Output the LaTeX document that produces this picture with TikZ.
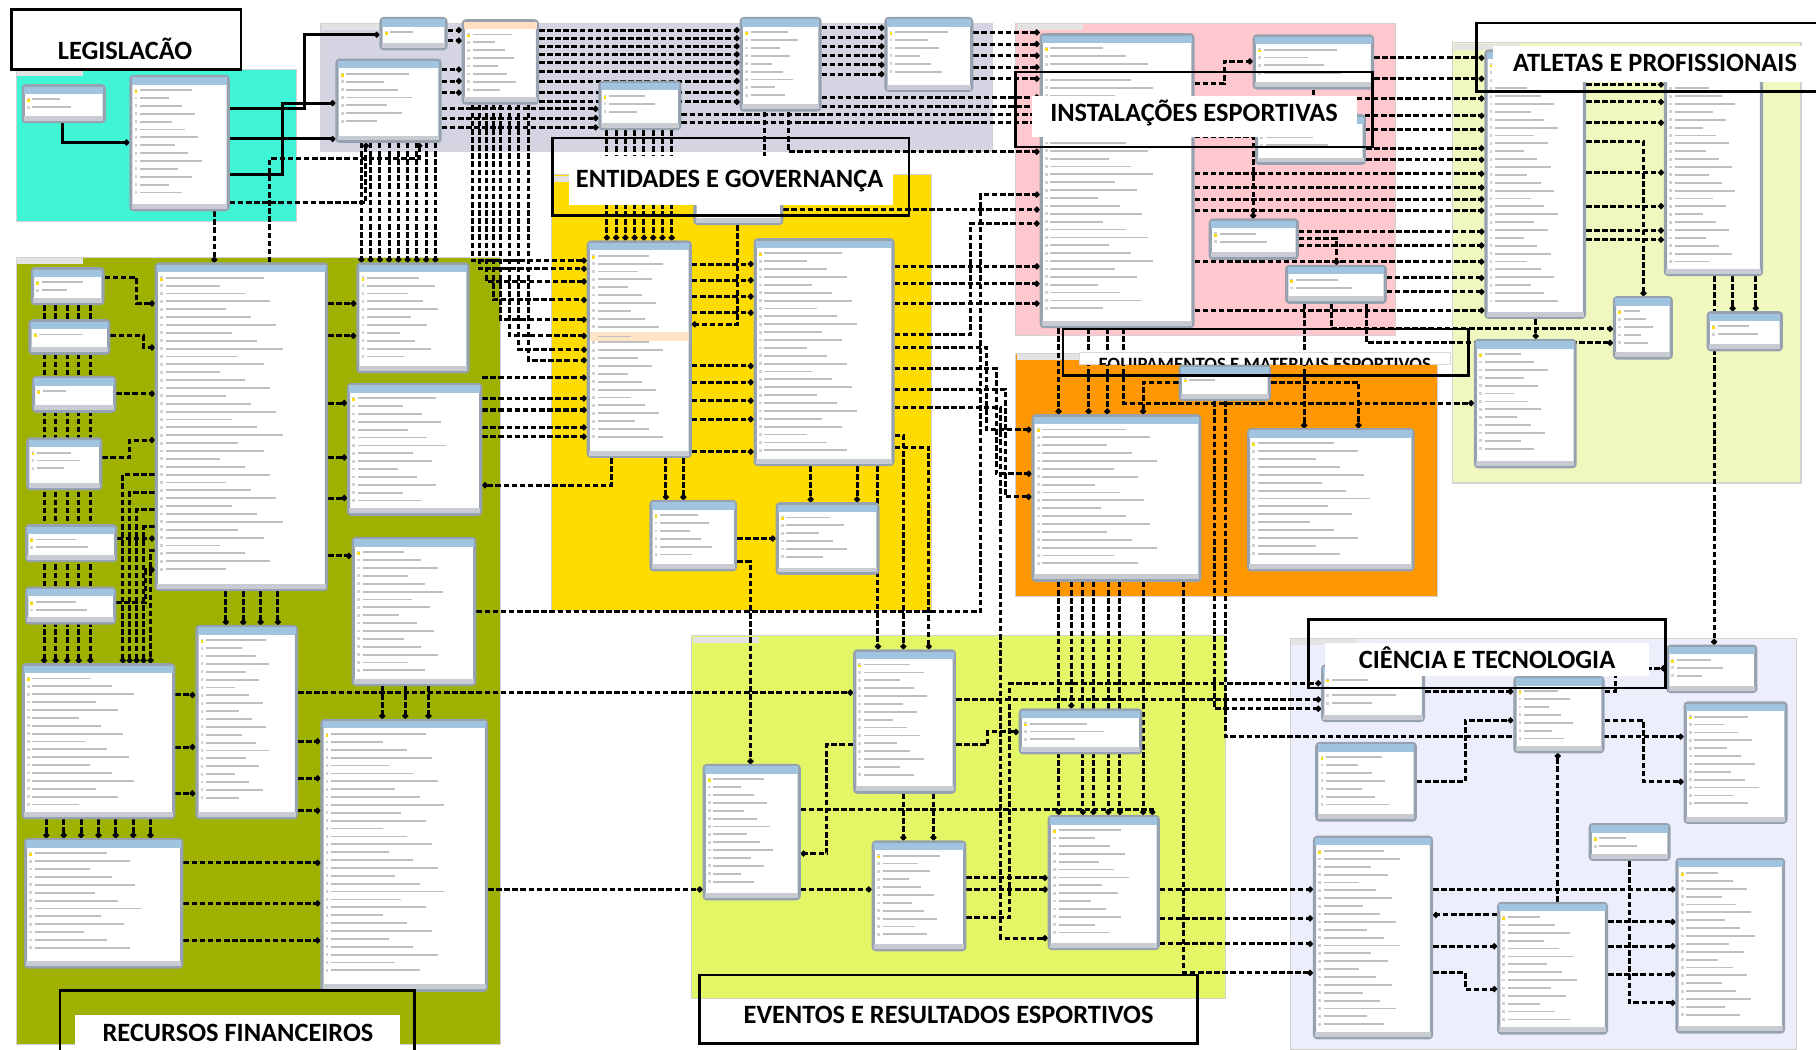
\documentclass[tikz,border=0pt]{standalone}
\usepackage{fontspec}
\setmainfont{Carlito}
\usetikzlibrary{fit,calc,arrows.meta}
\definecolor{cCyan}{RGB}{64,244,214}
\definecolor{cGray}{RGB}{212,212,226}
\definecolor{cYel}{RGB}{255,220,0}
\definecolor{cPink}{RGB}{255,200,206}
\definecolor{cAtl}{RGB}{240,248,192}
\definecolor{cOra}{RGB}{255,152,0}
\definecolor{cOli}{RGB}{158,176,0}
\definecolor{cEve}{RGB}{226,246,102}
\definecolor{cCie}{RGB}{236,238,252}
\definecolor{cFrame}{RGB}{150,162,176}
\definecolor{cHead}{RGB}{160,196,224}
\definecolor{cFoot}{RGB}{200,204,210}
\tikzset{
  region/.style={draw=gray!35, line width=0.5pt},
  captab/.style={fill=gray!22},
  tbl/.style={draw=cFrame, line width=1.4pt, fill=white, rounded corners=1.2pt, inner sep=0pt},
  tbhead/.style={fill=cHead},
  tbfoot/.style={fill=cFoot},
  tbrow/.style={draw=gray!50, line width=0.8pt},
  fk/.style={draw=black, line width=1.3pt, dash pattern=on 2.4pt off 1.1pt, -{Circle[length=2.4pt]}},
  sk/.style={draw=black, line width=1.3pt, -{Circle[length=2.4pt]}},
  lblframe/.style={draw=black, line width=1.1pt, inner sep=0pt},
  lblfill/.style={fill=white, inner sep=0pt},
  lbltext/.style={font=\bfseries\fontsize{11.4}{13}\selectfont, inner sep=0pt, anchor=base},
  lbltextsmall/.style={font=\bfseries\fontsize{8.1}{10}\selectfont, inner sep=0pt, anchor=base},
}
\newcommand{\tb}[5]{%
  \node[tbl, fit={(#2,#3) (#4,#5)}] (#1) {};
  \fill[tbhead] (#2+0.7,#3+0.7) rectangle (#4-0.7,#3+7);
  \fill[tbfoot] (#2+0.7,#5-5) rectangle (#4-0.7,#5-0.7);
  \pgfmathtruncatemacro{\nrows}{floor((#5-#3-16)/6.8)}
  \ifnum\nrows>0
  \foreach \i in {1,...,\nrows}{
    \pgfmathsetmacro{\ry}{#3+7+6.8*\i-2}
    \pgfmathsetmacro{\rl}{(#4-#2-14)*(0.35+0.45*mod(\i*37+#2,11)/11)}
    \draw[tbrow] (#2+8,\ry) -- ++(\rl,0);
    \fill[gray!35] (#2+3.2,\ry-1.2) rectangle ++(2.4,2.4);
  }
  \fi
  \fill[yellow!80!orange] (#2+3.2,#3+11.8) rectangle ++(2.4,2.4);
}
\pgfdeclarelayer{tables}
\pgfsetlayers{main,tables}
\begin{document}
\begin{tikzpicture}[x=0.5pt,y=-0.5pt]
\useasboundingbox (0,0) rectangle (1568,906);
\clip (0,0) rectangle (1568,906);
\fill[white] (0,0) rectangle (1568,906);

% ---------------- regions
\fill[cCyan, region] (14,60) rectangle (256,191);
\fill[cGray, region] (277,20) rectangle (857,131);
\fill[cYel, region] (476,151) rectangle (804,527);
\fill[cPink, region] (877,20) rectangle (1205,290);
\fill[cAtl, region] (1254,37) rectangle (1555,417);
\fill[cOra, region] (877,305) rectangle (1241,515);
\fill[cOli, region] (14,222) rectangle (432,902);
\fill[cEve, region] (597,549) rectangle (1058,862);
\fill[cCie, region] (1114,551) rectangle (1551,906);
\foreach \xa/\ya in {14/60,277/20,476/151,877/20,1254/37,877/305,14/222,597/549,1114/551}
  \fill[captab] (\xa+1,\ya+1) rectangle (\xa+58,\ya+6);

\coordinate (c-a) at (263,30);
\coordinate (c-b) at (244,89);

% ---------------- tables (upper layer)
\begin{pgfonlayer}{tables}
\tb{tdl}{20}{74}{90}{105}
\tb{leg}{113}{66}{197}{181}
\tb{g1}{329}{16}{385}{42}
\tb{uf}{400}{18}{464}{89}
\tb{cid}{291}{52}{380}{122}
\tb{mod}{518}{71}{587}{111}
\tb{pes}{640}{16}{708}{95}
\tb{g2}{765}{16}{839}{78}
\tb{g3}{600}{150}{675}{193}
\tb{ent}{508}{209}{596}{394}
\tb{gov}{652}{207}{771}{401}
\tb{ye1}{562}{433}{635}{492}
\tb{ye2}{671}{435}{758}{495}
\tb{inst}{899}{30}{1030}{282}
\tb{ip1}{1083}{31}{1185}{76}
\tb{ip2}{1085}{100}{1178}{141}
\tb{ip3}{1045}{190}{1120}{223}
\tb{ip4}{1111}{230}{1196}{261}
\tb{atl}{1283}{44}{1368}{274}
\tb{prof}{1438}{44}{1521}{237}
\tb{dop}{1274}{294}{1360}{403}
\tb{at1}{1394}{257}{1443}{309}
\tb{at2}{1475}{270}{1538}{302}
\tb{or1}{1019}{316}{1096}{345}
\tb{or2}{892}{359}{1036}{501}
\tb{or3}{1078}{371}{1220}{492}
\tb{ol1}{28}{232}{89}{262}
\tb{ol2}{26}{277}{94}{305}
\tb{ol3}{29}{326}{99}{355}
\tb{ol4}{24}{379}{87}{422}
\tb{ol5}{23}{454}{100}{484}
\tb{ol6}{23}{508}{99}{538}
\tb{conv}{135}{228}{282}{509}
\tb{ol7}{309}{228}{404}{321}
\tb{ol8}{301}{332}{415}{444}
\tb{ol9}{305}{465}{410}{591}
\tb{ol10}{170}{541}{256}{706}
\tb{ol11}{20}{574}{150}{706}
\tb{ol12}{22}{725}{157}{835}
\tb{ol13}{278}{622}{420}{855}
\tb{ev1}{738}{562}{824}{684}
\tb{ev2}{608}{661}{690}{776}
\tb{ev3}{881}{613}{985}{650}
\tb{ev4}{754}{727}{833}{820}
\tb{ev5}{906}{705}{1000}{819}
\tb{ct1}{1142}{575}{1229}{622}
\tb{ct2}{1308}{585}{1384}{649}
\tb{ct3}{1440}{558}{1516}{597}
\tb{ct4}{1455}{607}{1542}{710}
\tb{ct5}{1137}{642}{1222}{708}
\tb{ct6}{1373}{712}{1441}{742}
\tb{ct7}{1135}{723}{1236}{896}
\tb{ct8}{1294}{780}{1387}{892}
\tb{ct9}{1448}{742}{1540}{891}
\fill[orange!25] (400.7,18.7) rectangle (463.3,25);
\fill[orange!22] (509.2,287) rectangle (594.8,294);
\draw[tbrow] (516,290.5) -- (545,290.5);
\end{pgfonlayer}

% ---------------- connectors (main layer, below tables)
% legislacao
\draw[sk] (tdl.south -| 54,0) |- (leg.west |- 0,123);
\draw[sk] (leg.east |- 0,94) -| (c-a) -- (g1.west |- 0,30);
\draw[sk] (leg.east |- 0,120) -- (cid.west |- 0,120);
\draw[sk] (leg.east |- 0,151) -| (c-b) -- (cid.west |- 0,89);
\draw[fk] (leg.east |- 0,175) -| (cid.south -| 316,0);
\draw[fk] (leg.south -| 185,0) -- (conv.north -| 185,0);
\draw[fk] (conv.north -| 233,0) |- (362,137) -- (cid.south -| 362,0);
% gray region
\foreach \yy in {26,33,40,47,54,62,70,80,88} \draw[fk] (uf.east |- 0,\yy) -- (pes.west |- 0,\yy);
\foreach \yy in {24,32,40,48,56,64} \draw[fk] (pes.east |- 0,\yy) -- (g2.west |- 0,\yy);
\foreach \yy in {28,38,48,58,68} \draw[fk] (g2.east |- 0,\yy) -- (inst.west |- 0,\yy);
\foreach \yy in {84,92} \draw[fk] (pes.east |- 0,\yy) -- (inst.west |- 0,\yy);
\foreach \yy in {99,106} \draw[fk] (mod.east |- 0,\yy) -- (inst.west |- 0,\yy);
\draw[fk] (g1.east |- 0,26) -- (uf.west |- 0,26);
\draw[fk] (g1.east |- 0,35) -- (uf.west |- 0,35);
\foreach \yy in {60,70,80} \draw[fk] (cid.east |- 0,\yy) -- (uf.west |- 0,\yy);
\foreach \yy in {94,102,110} \draw[fk] (cid.east |- 0,\yy) -- (mod.west |- 0,\yy);
\draw[fk] (pes.south -| 681,0) |- (inst.west |- 0,131);
\draw[fk] (pes.south -| 660,0) -- (g3.north -| 660,0);
\foreach \xx in {312,320,...,376} \draw[fk] (cid.south -| \xx,0) -- (ol7.north -| \xx,0);
\foreach \xx in {524,532,...,580} \draw[fk] (mod.south -| \xx,0) -- (ent.north -| \xx,0);
\foreach \xx/\yy in {408/225,414/232,420/243,426/259,432/276,440/290,448/302,456/311}
  \draw[fk] (uf.south -| \xx,0) |- (ent.west |- 0,\yy);
% olive
\draw[fk] (ol1.east |- 0,240) -| (118,262) -- (conv.west |- 0,262);
\draw[fk] (ol2.east |- 0,290) -| (124,300) -- (conv.west |- 0,300);
\draw[fk] (ol3.east |- 0,340) -- (conv.west |- 0,340);
\draw[fk] (ol4.east |- 0,395) -| (112,380) -- (conv.west |- 0,380);
\draw[fk] (ol5.east |- 0,465) -- (conv.west |- 0,465);
\draw[fk] (ol6.east |- 0,520) -| (126,492) -- (conv.west |- 0,492);
\foreach \xx in {38,48,58,68,78} \draw[fk] (ol1.south -| \xx,0) -- (ol11.north -| \xx,0);
\foreach \xx/\yy in {106/410,112/425,118/440,124/455,130/475} \draw[fk] (conv.west |- 0,\yy) -| (ol11.north -| \xx,0);
\foreach \xx in {195,210,225,240} \draw[fk] (conv.south -| \xx,0) -- (ol10.north -| \xx,0);
\foreach \yy in {262,290} \draw[fk] (conv.east |- 0,\yy) -- (ol7.west |- 0,\yy);
\foreach \yy in {348,395,430} \draw[fk] (conv.east |- 0,\yy) -- (ol8.west |- 0,\yy);
\draw[fk] (conv.east |- 0,480) -- (ol9.west |- 0,480);
\foreach \yy in {640,672,700} \draw[fk] (ol10.east |- 0,\yy) -- (ol13.west |- 0,\yy);
\foreach \yy in {600,645,685} \draw[fk] (ol11.east |- 0,\yy) -- (ol10.west |- 0,\yy);
\foreach \xx in {40,55,70,85,100,115,130} \draw[fk] (ol11.south -| \xx,0) -- (ol12.north -| \xx,0);
\foreach \yy in {745,780,812} \draw[fk] (ol12.east |- 0,\yy) -- (ol13.west |- 0,\yy);
\foreach \xx in {330,350,370} \draw[fk] (ol9.south -| \xx,0) -- (ol13.north -| \xx,0);
\draw[fk] (ol10.east |- 0,598) -- (ev1.west |- 0,598);
\draw[fk] (ol13.east |- 0,768) -- (ev2.west |- 0,768);
\draw[fk] (ev2.east |- 0,768) -- (ev4.west |- 0,768);
\draw[fk] (ev4.east |- 0,768) -- (ev5.west |- 0,768);
\draw[fk] (ev5.east |- 0,768) -- (ct7.west |- 0,768);
\draw[fk] (ol9.east |- 0,528) -| (847,168) -- (inst.west |- 0,168);
\foreach \yy in {326,344,354,369,377} \draw[fk] (ol8.east |- 0,\yy) -- (ent.west |- 0,\yy);
\draw[fk] (ent.south -| 528,0) |- (ol8.east |- 0,419);
% yellow
\foreach \yy in {228,242,256,270,316,330,346,362,390} \draw[fk] (ent.east |- 0,\yy) -- (gov.west |- 0,\yy);
\draw[fk] (g3.south -| 637,0) |- (ent.east |- 0,280);
\draw[fk] (ent.south -| 575,0) -- (ye1.north -| 575,0);
\draw[fk] (ent.south -| 590,0) -- (ye1.north -| 590,0);
\draw[fk] (gov.south -| 700,0) -- (ye2.north -| 700,0);
\draw[fk] (gov.south -| 740,0) -- (ye2.north -| 740,0);
\draw[fk] (ye1.east |- 0,465) -- (ye2.west |- 0,465);
\foreach \yy in {230,245,262} \draw[fk] (gov.east |- 0,\yy) -- (inst.west |- 0,\yy);
\draw[fk] (gov.east |- 0,289) -| (838,193) -- (inst.west |- 0,193);
\draw[fk] (g3.east |- 0,181) -- (inst.west |- 0,181);
\draw[fk] (gov.east |- 0,300) -| (852,371) -- (or2.west |- 0,371);
\draw[fk] (gov.east |- 0,318) -| (860,409) -- (or2.west |- 0,409);
\draw[fk] (gov.east |- 0,336) -| (868,429) -- (or2.west |- 0,429);
\draw[fk] (gov.south -| 758,0) -- (ev1.north -| 758,0);
\draw[fk] (gov.east |- 0,376) -| (ev1.north -| 780,0);
\draw[fk] (gov.east |- 0,386) -| (ev1.north -| 802,0);
\draw[fk] (gov.east |- 0,352) -| (864,810) -- (ev5.west |- 0,810);
\draw[fk] (ev4.east |- 0,792) -| (872,590) -- (ct1.west |- 0,590);
\draw[fk] (ye1.east |- 0,485) -| (ev2.north -| 648,0);
% pink / atletas
\draw[fk] (inst.east |- 0,72) -| (1057,53) -- (ip1.west |- 0,53);
\foreach \yy in {50,68} \draw[fk] (ip1.east |- 0,\yy) -- (atl.west |- 0,\yy);
\foreach \yy in {85,100,112,150,162,172,182,226,268} \draw[fk] (inst.east |- 0,\yy) -- (atl.west |- 0,\yy);
\foreach \yy in {128,138} \draw[fk] (ip2.east |- 0,\yy) -- (atl.west |- 0,\yy);
\foreach \yy in {200,212} \draw[fk] (ip3.east |- 0,\yy) -- (atl.west |- 0,\yy);
\foreach \yy in {240,252} \draw[fk] (ip4.east |- 0,\yy) -- (atl.west |- 0,\yy);
\draw[fk] (inst.east |- 0,118) -| (ip3.north -| 1082,0);
\draw[fk] (ip1.south -| 1134,0) -- (ip2.north -| 1134,0);
\draw[fk] (ip3.east |- 0,206) -| (ip4.north -| 1154,0);
\draw[fk] (ip4.south -| 1150,0) |- (at1.west |- 0,284);
\draw[fk] (ip4.south -| 1180,0) |- (at1.west |- 0,296);
\draw[fk] (inst.south -| 970,0) |- (dop.west |- 0,348);
\draw[fk] (atl.south -| 1326,0) -- (dop.north -| 1326,0);
\draw[fk] (atl.east |- 0,122) -| (at1.north -| 1419,0);
\foreach \yy in {59,73,88,106,149,178,199,207} \draw[fk] (atl.east |- 0,\yy) -- (prof.west |- 0,\yy);
\draw[fk] (prof.south -| 1496,0) -- (at2.north -| 1496,0);
\draw[fk] (prof.south -| 1516,0) -- (at2.north -| 1516,0);
\draw[fk] (prof.south -| 1480,0) -- (ct3.north -| 1480,0);
% orange
\draw[fk] (or1.west |- 0,330) -| (or2.north -| 987,0);
\draw[fk] (or1.east |- 0,330) -| (or3.north -| 1173,0);
\draw[fk] (ip4.south -| 1126,0) -- (or3.north -| 1126,0);
\foreach \xx in {914,940,956} \draw[fk] (inst.south -| \xx,0) -- (or2.north -| \xx,0);
\foreach \xx in {914,935,944,957,967,987} \draw[fk] (or2.south -| \xx,0) -- (ev5.north -| \xx,0);
\draw[fk] (or2.south -| 925,0) -- (ev3.north -| 925,0);
\draw[fk] (or2.south -| 1022,0) |- (ct7.west |- 0,840);
\draw[fk] (or1.south -| 1049,0) |- (ct1.west |- 0,612);
\draw[fk] (or1.south -| 1058,0) |- (ct4.west |- 0,636);
% eventos
\draw[fk] (ev1.east |- 0,604) -- (ct1.west |- 0,604);
\draw[fk] (ev1.west |- 0,643) -| (714,737) -- (ev2.east |- 0,737);
\draw[fk] (ev1.east |- 0,643) -| (853,632) -- (ev3.west |- 0,632);
\draw[fk] (ev1.south -| 780,0) -- (ev4.north -| 780,0);
\draw[fk] (ev1.south -| 806,0) -- (ev4.north -| 806,0);
\draw[fk] (ev2.east |- 0,699) -| (ev5.north -| 995,0);
\draw[fk] (ev4.east |- 0,758) -- (ev5.west |- 0,758);
\draw[fk] (ev5.east |- 0,793) -- (ct7.west |- 0,793);
\draw[fk] (ev5.east |- 0,815) -- (ct7.west |- 0,815);
% ciencia
\draw[fk] (ct7.east |- 0,768) -- (ct9.west |- 0,768);
\draw[fk] (ct8.west |- 0,790) -- (ct7.east |- 0,790);
\draw[fk] (ct7.east |- 0,817) -- (ct8.west |- 0,817);
\foreach \yy in {796,817,841} \draw[fk] (ct8.east |- 0,\yy) -- (ct9.west |- 0,\yy);
\draw[fk] (ct7.east |- 0,840) -| (1265,854) -- (ct8.west |- 0,854);
\draw[fk] (ct6.south -| 1407,0) |- (ct9.west |- 0,866);
\draw[fk] (ct8.north -| 1345,0) -- (ct2.south -| 1345,0);
\draw[fk] (ct5.east |- 0,675) -| (1265,622) -- (ct2.west |- 0,622);
\draw[fk] (ct2.east |- 0,622) -| (1419,675) -- (ct4.west |- 0,675);
\draw[fk] (ct1.east |- 0,597) -- (ct2.west |- 0,597);
\draw[fk] (ct2.east |- 0,597) -| (1395,577) -- (ct3.west |- 0,577);

% ---------------- labels (top layer)
\begin{pgfonlayer}{tables}
\node[lblframe, fit={(10,8) (208,60)}] (f-leg) {};
\node[lblfill, fit={(23,33) (197,59)}] (w-leg) {};
\node[lbltext] (t-leg) at (108,51.5) {LEGISLACÃO};

\node[lblframe, fit={(477,119) (785,186)}] (f-ent) {};
\node[lblfill, fit={(491,135) (771,177)}] (w-ent) {};
\node[lbltext] (t-ent) at (630,161.5) {ENTIDADES E GOVERNANÇA};

\node[lblframe, fit={(877,62) (1185,127)}] (f-ins) {};
\node[lblfill, fit={(891,83) (1172,118)}] (w-ins) {};
\node[lbltext] (t-ins) at (1031,104.5) {INSTALAÇÕES ESPORTIVAS};

\node[lblframe, fit={(1275,20) (1580,79)}] (f-atl) {};
\node[lblfill, fit={(1289,40) (1568,71)}] (w-atl) {};
\node[lbltext] (t-atl) at (1429,62) {ATLETAS E PROFISSIONAIS};

\node[lblframe, fit={(918,284) (1268,324)}] (f-equ) {};
\node[lblfill, draw=gray!30, line width=0.4pt, fit={(932,304) (1252,315)}] (w-equ) {};
\begin{scope}
\clip (932,304) rectangle (1252,315);
\node[lbltextsmall] (t-equ) at (1092,319.5) {EQUIPAMENTOS E MATERIAIS ESPORTIVOS};
\end{scope}

\node[lblframe, fit={(1130,535) (1438,594)}] (f-cie) {};
\node[lblfill, fit={(1144,555) (1424,584)}] (w-cie) {};
\node[lbltext] (t-cie) at (1284,577) {CIÊNCIA E TECNOLOGIA};

\node[lblframe, fit={(52,855) (358,915)}] (f-rec) {};
\node[lblfill, fit={(65,876) (345,906)}] (w-rec) {};
\node[lbltext] (t-rec) at (205.5,899) {RECURSOS FINANCEIROS};

\node[lblframe, fit={(604,842) (1034,901)}] (f-eve) {};
\node[lbltext] (t-eve) at (819,884) {EVENTOS E RESULTADOS ESPORTIVOS};
\end{pgfonlayer}
\end{tikzpicture}
\end{document}
